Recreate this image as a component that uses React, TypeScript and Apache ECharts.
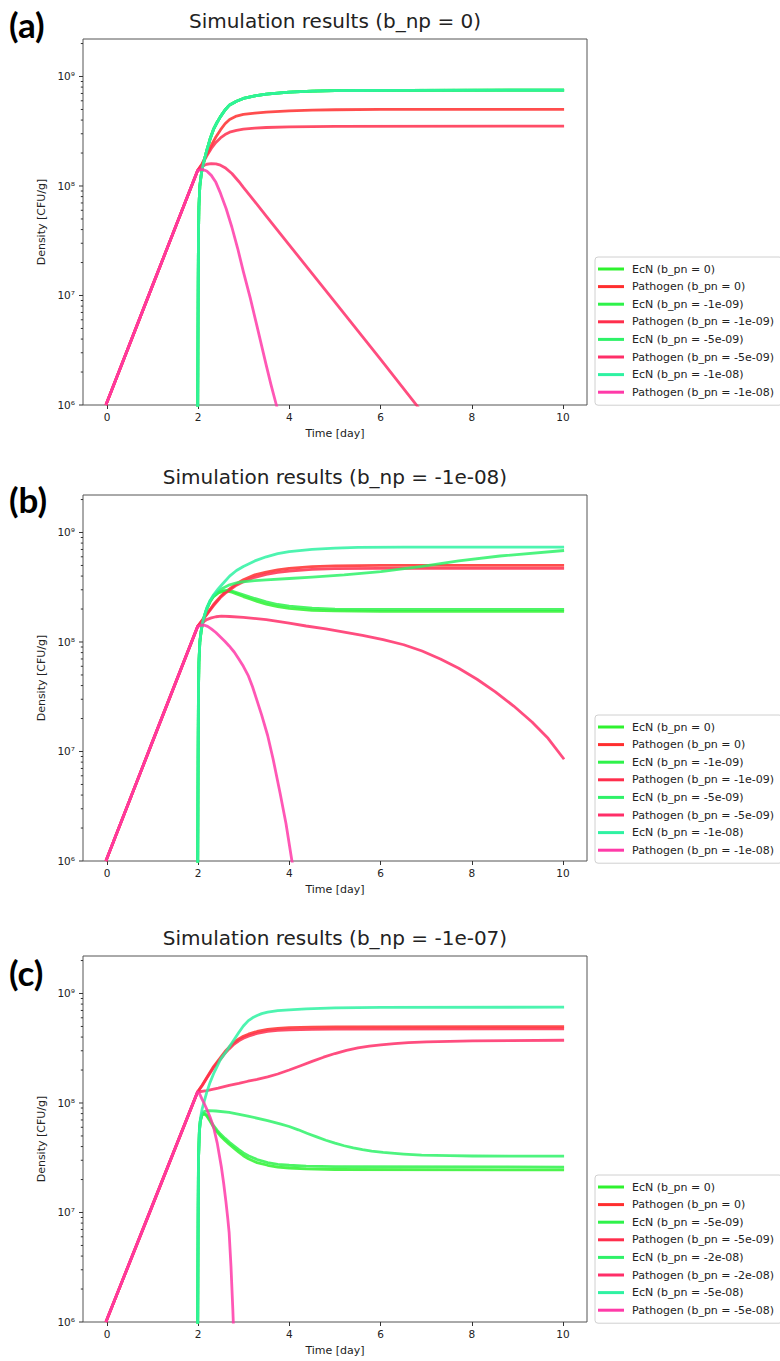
import React, { useEffect, useRef } from 'react';
import * as echarts from 'echarts';

// ---------- labels ----------
const PANEL_TITLES = [
  'Simulation results (b_np = 0)',
  'Simulation results (b_np = -1e-08)',
  'Simulation results (b_np = -1e-07)',
];
const PANEL_LETTERS = ['(a)', '(b)', '(c)'];
const BPN_LABELS = [
  ['0', '-1e-09', '-5e-09', '-1e-08'],
  ['0', '-1e-09', '-5e-09', '-1e-08'],
  ['0', '-5e-09', '-2e-08', '-5e-08'],
];
const X_TICKS = [0, 2, 4, 6, 8, 10];
const Y_MAJOR = [1e6, 1e7, 1e8, 1e9];
const Y_MINOR = [
  2e6, 3e6, 4e6, 5e6, 6e6, 7e6, 8e6, 9e6,
  2e7, 3e7, 4e7, 5e7, 6e7, 7e7, 8e7, 9e7,
  2e8, 3e8, 4e8, 5e8, 6e8, 7e8, 8e8, 9e8,
  2e9,
];
const SUP: Record<string, string> = { '6': '⁶', '7': '⁷', '8': '⁸', '9': '⁹' };

const ECN_COLORS = ['#2ef22e', '#2ef24a', '#2ef268', '#2ef2a2'];
const PATH_COLORS = ['#ff2e2e', '#ff2e4c', '#ff2e68', '#ff3aa8'];

// ---------- panel (a): b_np = 0 ----------
const A_ECN = [[2.0, 1e5], [2.004, 1e6], [2.008, 3e6], [2.014, 1.2e7], [2.02, 3.5e7], [2.03, 6.5e7], [2.05, 1.0e8], [2.075, 1.22e8], [2.1, 1.42e8], [2.15, 1.75e8], [2.2, 2.1e8], [2.275, 2.7e8], [2.35, 3.3e8], [2.425, 3.8e8], [2.5, 4.3e8], [2.6, 4.95e8], [2.7, 5.5e8], [2.85, 5.95e8], [3.0, 6.3e8], [3.25, 6.65e8], [3.5, 6.9e8], [3.75, 7.05e8], [4.0, 7.2e8], [4.5, 7.35e8], [5.0, 7.42e8], [5.5, 7.45e8], [6.5, 7.48e8], [10, 7.5e8]];
const A_P0 = [[0, 1e6], [1, 1.18e7], [2, 1.38e8], [2.1, 1.6e8], [2.2, 1.95e8], [2.3, 2.35e8], [2.4, 2.8e8], [2.5, 3.25e8], [2.6, 3.7e8], [2.7, 4.05e8], [2.85, 4.35e8], [3.0, 4.5e8], [3.25, 4.63e8], [3.5, 4.72e8], [4.0, 4.85e8], [4.5, 4.93e8], [5.0, 4.97e8], [6.0, 5.0e8], [10, 5.0e8]];
const A_P1 = [[0, 1e6], [1, 1.18e7], [2, 1.38e8], [2.1, 1.58e8], [2.2, 1.88e8], [2.3, 2.2e8], [2.4, 2.5e8], [2.5, 2.75e8], [2.6, 2.95e8], [2.7, 3.1e8], [2.85, 3.22e8], [3.0, 3.3e8], [3.25, 3.37e8], [3.5, 3.42e8], [4.0, 3.47e8], [5.0, 3.5e8], [10, 3.52e8]];
const A_P2 = [[0, 1e6], [1, 1.18e7], [2, 1.38e8], [2.1, 1.52e8], [2.2, 1.58e8], [2.3, 1.6e8], [2.4, 1.59e8], [2.5, 1.55e8], [2.6, 1.47e8], [2.75, 1.3e8], [2.9, 1.1e8], [3.0, 9.7e7], [3.25, 7.2e7], [3.5, 5.3e7], [4.0, 2.9e7], [5.0, 8.7e6], [6.0, 2.6e6], [7.0, 7.6e5]];
const A_P3 = [[0, 1e6], [1, 1.18e7], [2, 1.38e8], [2.1, 1.42e8], [2.2, 1.37e8], [2.3, 1.25e8], [2.4, 1.08e8], [2.5, 8.6e7], [2.625, 6.2e7], [2.75, 4.2e7], [2.875, 2.7e7], [3.0, 1.65e7], [3.15, 9.5e6], [3.3, 5.2e6], [3.5, 2.3e6], [3.6, 1.55e6], [3.72, 1.0e6], [3.8, 7.5e5]];

// ---------- panel (b): b_np = -1e-08 ----------
const B_ECN0 = [[2.0, 1e5], [2.004, 1e6], [2.008, 3e6], [2.014, 1.2e7], [2.02, 3.5e7], [2.03, 6.5e7], [2.05, 1.0e8], [2.075, 1.22e8], [2.1, 1.42e8], [2.15, 1.72e8], [2.2, 2.0e8], [2.275, 2.35e8], [2.35, 2.6e8], [2.45, 2.8e8], [2.55, 2.9e8], [2.65, 2.92e8], [2.75, 2.85e8], [2.85, 2.75e8], [3.0, 2.6e8], [3.15, 2.47e8], [3.3, 2.35e8], [3.5, 2.22e8], [3.75, 2.1e8], [4.0, 2.03e8], [4.5, 1.95e8], [5.0, 1.92e8], [6.0, 1.9e8], [10, 1.9e8]];
const B_ECN1 = [[2.0, 1e5], [2.004, 1e6], [2.008, 3e6], [2.014, 1.2e7], [2.02, 3.5e7], [2.03, 6.5e7], [2.05, 1.0e8], [2.075, 1.22e8], [2.1, 1.42e8], [2.15, 1.72e8], [2.2, 2.0e8], [2.275, 2.36e8], [2.35, 2.62e8], [2.45, 2.84e8], [2.55, 2.94e8], [2.65, 2.96e8], [2.75, 2.92e8], [2.85, 2.83e8], [3.0, 2.7e8], [3.15, 2.57e8], [3.3, 2.46e8], [3.5, 2.33e8], [3.75, 2.2e8], [4.0, 2.13e8], [4.5, 2.04e8], [5.0, 2.0e8], [6.0, 1.98e8], [10, 1.98e8]];
const B_ECN2 = [[2.0, 1e5], [2.004, 1e6], [2.008, 3e6], [2.014, 1.2e7], [2.02, 3.5e7], [2.03, 6.5e7], [2.05, 1.0e8], [2.075, 1.22e8], [2.1, 1.42e8], [2.15, 1.72e8], [2.2, 2.0e8], [2.275, 2.35e8], [2.35, 2.65e8], [2.45, 2.9e8], [2.55, 3.1e8], [2.7, 3.33e8], [2.85, 3.46e8], [3.0, 3.55e8], [3.25, 3.64e8], [3.5, 3.7e8], [4.0, 3.8e8], [4.5, 3.92e8], [5.2, 4.1e8], [6.0, 4.4e8], [6.9, 4.9e8], [7.7, 5.5e8], [8.6, 6.1e8], [10, 6.85e8]];
const B_ECN3 = [[2.0, 1e5], [2.004, 1e6], [2.008, 3e6], [2.014, 1.2e7], [2.02, 3.5e7], [2.03, 6.5e7], [2.05, 1.0e8], [2.075, 1.24e8], [2.1, 1.45e8], [2.15, 1.75e8], [2.2, 2.05e8], [2.275, 2.4e8], [2.35, 2.7e8], [2.45, 3.05e8], [2.55, 3.4e8], [2.7, 4.0e8], [2.85, 4.5e8], [3.0, 4.9e8], [3.25, 5.5e8], [3.5, 6.0e8], [3.75, 6.4e8], [4.0, 6.7e8], [4.5, 7.0e8], [5.0, 7.2e8], [5.5, 7.3e8], [6.5, 7.35e8], [10, 7.35e8]];
const B_P0 = [[0, 1e6], [1, 1.18e7], [2, 1.38e8], [2.1, 1.58e8], [2.2, 1.8e8], [2.35, 2.2e8], [2.5, 2.6e8], [2.6, 2.85e8], [2.7, 3.05e8], [2.85, 3.4e8], [3.0, 3.7e8], [3.25, 4.1e8], [3.5, 4.35e8], [3.75, 4.55e8], [4.0, 4.7e8], [4.5, 4.87e8], [5.0, 4.95e8], [6.0, 5.0e8], [10, 5.0e8]];
const B_P1 = [[0, 1e6], [1, 1.18e7], [2, 1.38e8], [2.1, 1.57e8], [2.2, 1.78e8], [2.35, 2.15e8], [2.5, 2.55e8], [2.6, 2.78e8], [2.7, 2.98e8], [2.85, 3.3e8], [3.0, 3.55e8], [3.25, 3.9e8], [3.5, 4.15e8], [3.75, 4.33e8], [4.0, 4.45e8], [4.5, 4.6e8], [5.0, 4.67e8], [6.0, 4.7e8], [10, 4.7e8]];
const B_P2 = [[0, 1e6], [1, 1.18e7], [2, 1.38e8], [2.1, 1.5e8], [2.2, 1.6e8], [2.3, 1.66e8], [2.4, 1.7e8], [2.52, 1.72e8], [2.7, 1.71e8], [3.0, 1.68e8], [3.5, 1.6e8], [4.0, 1.49e8], [4.37, 1.4e8], [4.8, 1.32e8], [5.2, 1.23e8], [5.6, 1.15e8], [6.05, 1.05e8], [6.5, 9.44e7], [6.9, 8.28e7], [7.3, 7.0e7], [7.7, 5.75e7], [8.1, 4.57e7], [8.5, 3.51e7], [8.9, 2.6e7], [9.3, 1.86e7], [9.65, 1.32e7], [10, 8.5e6]];
const B_P3 = [[0, 1e6], [1, 1.18e7], [2, 1.38e8], [2.07, 1.42e8], [2.14, 1.43e8], [2.22, 1.39e8], [2.3, 1.32e8], [2.4, 1.22e8], [2.5, 1.11e8], [2.6, 1.01e8], [2.69, 9.2e7], [2.8, 8.1e7], [2.9, 7.0e7], [3.0, 6.0e7], [3.11, 4.9e7], [3.2, 3.9e7], [3.3, 2.9e7], [3.4, 2.15e7], [3.53, 1.4e7], [3.65, 8.5e6], [3.8, 4.2e6], [3.93, 2.2e6], [4.06, 1.0e6], [4.15, 7e5]];

// ---------- panel (c): b_np = -1e-07 ----------
const C_ECN0 = [[2.0, 1e5], [2.004, 1e6], [2.008, 3e6], [2.014, 1.1e7], [2.02, 3e7], [2.04, 5.5e7], [2.06, 6.8e7], [2.09, 7.6e7], [2.12, 7.95e7], [2.16, 7.85e7], [2.2, 7.6e7], [2.275, 6.8e7], [2.35, 6.0e7], [2.425, 5.45e7], [2.5, 5.0e7], [2.6, 4.55e7], [2.69, 4.2e7], [2.8, 3.85e7], [2.9, 3.55e7], [3.0, 3.3e7], [3.11, 3.1e7], [3.3, 2.85e7], [3.53, 2.7e7], [3.75, 2.6e7], [4.0, 2.55e7], [4.37, 2.5e7], [5.0, 2.47e7], [10, 2.45e7]];
const C_ECN1 = [[2.0, 1e5], [2.004, 1e6], [2.008, 3e6], [2.014, 1.1e7], [2.02, 3e7], [2.04, 5.5e7], [2.06, 6.8e7], [2.09, 7.7e7], [2.12, 8.05e7], [2.16, 8.0e7], [2.2, 7.8e7], [2.275, 7.0e7], [2.35, 6.2e7], [2.425, 5.65e7], [2.5, 5.2e7], [2.6, 4.75e7], [2.69, 4.4e7], [2.8, 4.05e7], [2.9, 3.75e7], [3.0, 3.5e7], [3.11, 3.3e7], [3.3, 3.05e7], [3.53, 2.85e7], [3.75, 2.75e7], [4.0, 2.7e7], [4.37, 2.65e7], [5.0, 2.62e7], [10, 2.6e7]];
const C_ECN2 = [[2.0, 1e5], [2.004, 1e6], [2.008, 3e6], [2.014, 1.1e7], [2.02, 3e7], [2.04, 5.8e7], [2.06, 7.0e7], [2.1, 7.9e7], [2.15, 8.4e7], [2.25, 8.5e7], [2.4, 8.45e7], [2.69, 8.2e7], [3.1, 7.6e7], [3.53, 6.9e7], [3.8, 6.45e7], [4.0, 6.1e7], [4.2, 5.69e7], [4.4, 5.27e7], [4.6, 4.9e7], [4.8, 4.57e7], [5.0, 4.3e7], [5.2, 4.07e7], [5.4, 3.89e7], [5.6, 3.75e7], [5.8, 3.64e7], [6.05, 3.54e7], [6.5, 3.42e7], [6.89, 3.34e7], [7.5, 3.3e7], [8.0, 3.28e7], [10, 3.27e7]];
const C_ECN3 = [[2.0, 1e5], [2.004, 1e6], [2.008, 3e6], [2.014, 1.1e7], [2.02, 3e7], [2.04, 5.5e7], [2.07, 7.5e7], [2.1, 8.8e7], [2.15, 1.05e8], [2.2, 1.25e8], [2.275, 1.55e8], [2.35, 1.85e8], [2.425, 2.15e8], [2.5, 2.5e8], [2.6, 2.85e8], [2.69, 3.25e8], [2.8, 3.8e8], [2.9, 4.4e8], [3.0, 5.05e8], [3.11, 5.65e8], [3.2, 6.0e8], [3.3, 6.3e8], [3.4, 6.55e8], [3.53, 6.75e8], [3.75, 6.98e8], [4.0, 7.1e8], [4.37, 7.25e8], [5.0, 7.4e8], [6.0, 7.47e8], [10, 7.5e8]];
const C_P0 = [[0, 1e6], [1, 1.12e7], [2, 1.26e8], [2.1, 1.45e8], [2.2, 1.7e8], [2.35, 2.15e8], [2.5, 2.6e8], [2.6, 2.95e8], [2.69, 3.24e8], [2.8, 3.6e8], [2.9, 3.85e8], [3.0, 4.07e8], [3.11, 4.25e8], [3.3, 4.5e8], [3.53, 4.7e8], [3.75, 4.8e8], [4.0, 4.87e8], [4.5, 4.93e8], [5.0, 4.96e8], [10, 4.97e8]];
const C_P1 = [[0, 1e6], [1, 1.12e7], [2, 1.26e8], [2.1, 1.44e8], [2.2, 1.68e8], [2.35, 2.1e8], [2.5, 2.5e8], [2.6, 2.85e8], [2.69, 3.12e8], [2.8, 3.45e8], [2.9, 3.7e8], [3.0, 3.9e8], [3.11, 4.08e8], [3.3, 4.32e8], [3.53, 4.5e8], [3.75, 4.6e8], [4.0, 4.66e8], [4.5, 4.71e8], [5.0, 4.73e8], [10, 4.75e8]];
const C_P2 = [[0, 1e6], [1, 1.12e7], [2, 1.26e8], [2.2, 1.3e8], [2.45, 1.37e8], [2.69, 1.45e8], [2.9, 1.51e8], [3.1, 1.58e8], [3.3, 1.64e8], [3.53, 1.73e8], [3.75, 1.84e8], [4.0, 2.0e8], [4.25, 2.19e8], [4.5, 2.4e8], [4.75, 2.62e8], [5.0, 2.83e8], [5.25, 3.02e8], [5.5, 3.18e8], [5.75, 3.31e8], [6.0, 3.4e8], [6.3, 3.49e8], [6.6, 3.56e8], [7.0, 3.61e8], [7.5, 3.66e8], [8.0, 3.7e8], [10, 3.74e8]];
const C_P3 = [[0, 1e6], [1, 1.12e7], [2, 1.26e8], [2.05, 1.2e8], [2.1, 1.08e8], [2.15, 9.8e7], [2.2, 8.8e7], [2.275, 7.4e7], [2.35, 6.0e7], [2.43, 4.3e7], [2.52, 2.6e7], [2.57, 1.85e7], [2.62, 1.25e7], [2.66, 8.8e6], [2.69, 6.5e6], [2.73, 3.2e6], [2.77, 1.3e6], [2.78, 1.0e6], [2.8, 6e5]];

const PANEL_ECN = [
  [A_ECN, A_ECN, A_ECN, A_ECN],
  [B_ECN0, B_ECN1, B_ECN2, B_ECN3],
  [C_ECN0, C_ECN1, C_ECN2, C_ECN3],
];
const PANEL_PATH = [
  [A_P0, A_P1, A_P2, A_P3],
  [B_P0, B_P1, B_P2, B_P3],
  [C_P0, C_P1, C_P2, C_P3],
];

// ---------- layout ----------
const FONT = 'DejaVu Sans';
const PLOT_LEFT = 83;
const PLOT_WIDTH = 504;
const TICK_LEFT = 107;
const TICK_WIDTH = 456;
const PANEL_TOPS = [39, 495, 956];
const PANEL_HEIGHT = 366;
const LEGEND_TOPS = [257, 715, 1175];
const LETTER_Y = [24, 499, 972];

function buildOption() {
  const grid: any[] = [];
  const xAxis: any[] = [];
  const yAxis: any[] = [];
  const series: any[] = [];
  const legend: any[] = [];
  const graphic: any[] = [];

  PANEL_TOPS.forEach((top, p) => {
    const gMain = p * 2;
    const gTick = p * 2 + 1;
    grid.push({
      left: PLOT_LEFT, top, width: PLOT_WIDTH, height: PANEL_HEIGHT,
      show: true, borderColor: '#555', borderWidth: 1, backgroundColor: 'rgba(0,0,0,0)',
    });
    grid.push({ left: TICK_LEFT, top, width: TICK_WIDTH, height: PANEL_HEIGHT, show: false });

    xAxis.push({
      gridIndex: gMain, type: 'value', min: -0.5, max: 10.5,
      axisLine: { show: false }, axisTick: { show: false }, axisLabel: { show: false },
      splitLine: { show: false },
      name: 'Time [day]', nameLocation: 'middle', nameGap: 23,
      nameTextStyle: { fontFamily: FONT, fontSize: 11, color: '#222' },
    });
    xAxis.push({
      gridIndex: gTick, type: 'value', min: X_TICKS[0], max: X_TICKS[X_TICKS.length - 1], interval: 2,
      axisLine: { show: false },
      axisTick: { show: true, length: 4, lineStyle: { color: '#333', width: 1 } },
      axisLabel: { fontFamily: FONT, fontSize: 10.5, color: '#222', margin: 6 },
      splitLine: { show: false },
    });
    yAxis.push({
      gridIndex: gMain, type: 'log', logBase: 10, min: 1e6, max: 2.2e9,
      axisLine: { show: false }, axisTick: { show: false },
      minorTick: { show: false }, splitLine: { show: false }, minorSplitLine: { show: false },
      axisLabel: {
        fontFamily: FONT, fontSize: 10.5, color: '#222', margin: 8,
        formatter: (v: number) => {
          const e = Math.log10(v);
          const r = Math.round(e);
          if (Math.abs(e - r) > 1e-6 || r < 6 || r > 9) return '';
          return '10' + SUP[String(r)];
        },
      },
      name: 'Density [CFU/g]', nameLocation: 'middle', nameRotate: 90, nameGap: 36,
      nameTextStyle: { fontFamily: FONT, fontSize: 11, color: '#222' },
    });
    yAxis.push({ gridIndex: gTick, type: 'value', show: false, min: 0, max: 1 });

    // y-axis major/minor ticks placed through the log scale
    const tickData = [
      ...Y_MAJOR.map((v) => [-0.5, v, 4]),
      ...Y_MINOR.map((v) => [-0.5, v, 2.2]),
    ];
    series.push({
      type: 'custom', xAxisIndex: gMain, yAxisIndex: gMain, silent: true, clip: false,
      data: tickData,
      renderItem: (params: any, api: any) => {
        const pt = api.coord([api.value(0), api.value(1)]);
        const len = api.value(2);
        return {
          type: 'line',
          shape: { x1: pt[0] - len, y1: pt[1], x2: pt[0], y2: pt[1] },
          style: { stroke: '#333', lineWidth: 1 },
        };
      },
      z: 5,
    });

    const legendData: any[] = [];
    BPN_LABELS[p].forEach((lab, i) => {
      const ecnName = `EcN (b_pn = ${lab})`;
      const pathName = `Pathogen (b_pn = ${lab})`;
      series.push({
        name: ecnName, type: 'line', xAxisIndex: gMain, yAxisIndex: gMain,
        data: PANEL_ECN[p][i], showSymbol: false, symbol: 'none',
        smooth: false, clip: true, silent: true,
        lineStyle: { width: 2.8, color: ECN_COLORS[i], opacity: 0.85, join: 'round' },
        itemStyle: { color: ECN_COLORS[i] },
      });
      series.push({
        name: pathName, type: 'line', xAxisIndex: gMain, yAxisIndex: gMain,
        data: PANEL_PATH[p][i], showSymbol: false, symbol: 'none',
        smooth: false, clip: true, silent: true,
        lineStyle: { width: 2.8, color: PATH_COLORS[i], opacity: 0.85, join: 'round' },
        itemStyle: { color: PATH_COLORS[i] },
      });
      legendData.push({ name: ecnName, itemStyle: { color: ECN_COLORS[i] } });
      legendData.push({ name: pathName, itemStyle: { color: PATH_COLORS[i] } });
    });

    legend.push({
      orient: 'vertical', left: 595, top: LEGEND_TOPS[p],
      icon: 'rect', itemWidth: 26, itemHeight: 3, itemGap: 3.6,
      padding: [5, 8, 6, 3],
      backgroundColor: '#fff', borderColor: '#d0d0d0', borderWidth: 1, borderRadius: 3,
      selectedMode: false,
      textStyle: { fontFamily: FONT, fontSize: 11, color: '#222', lineHeight: 14, padding: [0, 0, 0, 3] },
      data: legendData,
    });

    graphic.push({
      type: 'text', x: PLOT_LEFT + PLOT_WIDTH / 2, y: top - 18,
      style: {
        text: PANEL_TITLES[p], fontFamily: FONT, fontSize: 20, fill: '#222',
        align: 'center', verticalAlign: 'middle',
      },
    });
    graphic.push({
      type: 'text', x: 9, y: LETTER_Y[p],
      style: {
        text: PANEL_LETTERS[p], fontFamily: 'Lato', fontWeight: 'bold', fontSize: 35, fill: '#000',
        align: 'left', verticalAlign: 'middle',
      },
    });
  });

  return {
    animation: false,
    backgroundColor: '#fff',
    grid, xAxis, yAxis, series, legend, graphic,
  };
}

export default function App() {
  const ref = useRef<HTMLDivElement>(null);
  useEffect(() => {
    document.body.style.margin = '0';
    const chart = echarts.init(ref.current as HTMLDivElement, null, { renderer: 'svg' });
    chart.setOption(buildOption() as any);
    return () => chart.dispose();
  }, []);
  return <div ref={ref} style={{ width: 780, height: 1361 }} />;
}
